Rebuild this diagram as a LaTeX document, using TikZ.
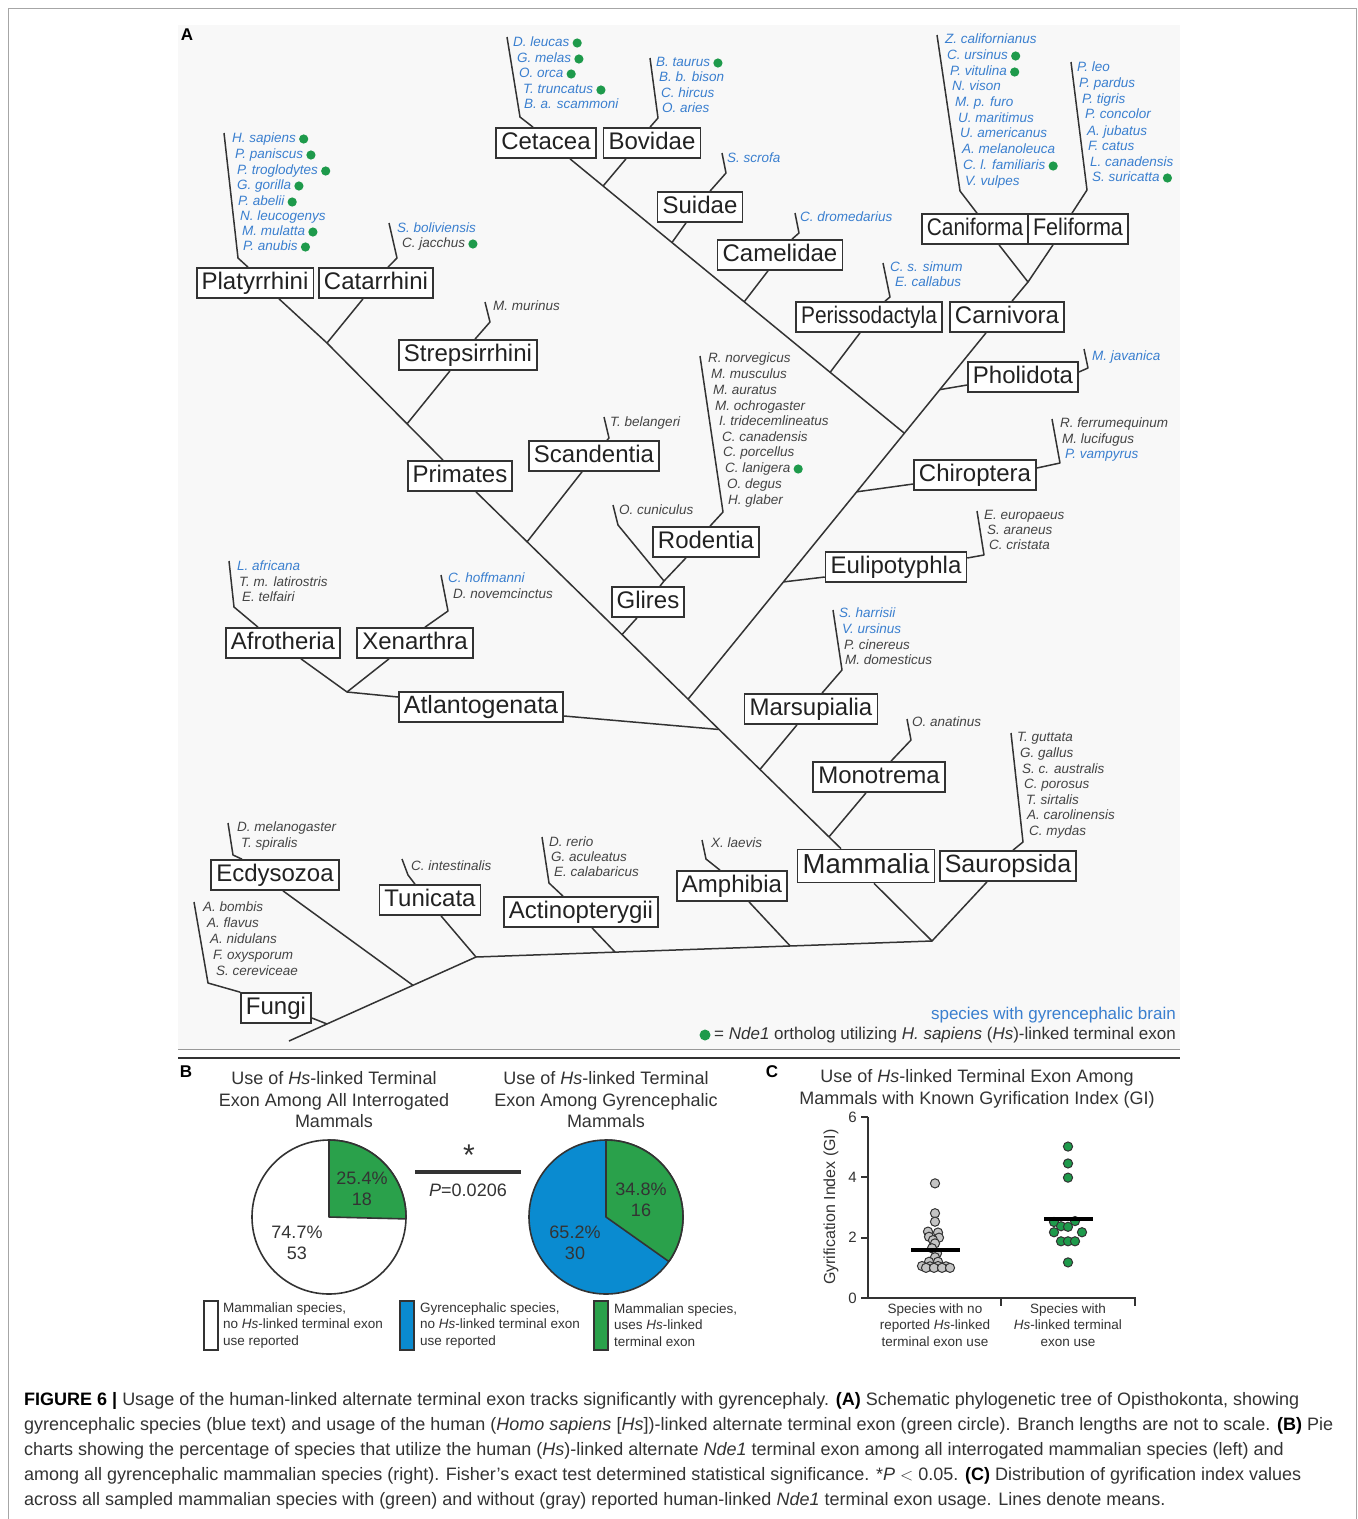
\documentclass[tikz,border=0pt]{standalone}
\usepackage{fontspec}
\usepackage{graphicx}
\setmainfont{Liberation Sans}
\usetikzlibrary{calc}
\definecolor{lc}{HTML}{333333}
\definecolor{boxtxt}{HTML}{222222}
\definecolor{cB}{HTML}{3A7FCF}
\definecolor{cK}{HTML}{444444}
\definecolor{dotg}{HTML}{1E9A4B}
\definecolor{pieg}{HTML}{2AA14B}
\definecolor{pieb}{HTML}{0A8BD0}
\definecolor{ptgray}{HTML}{C4C4C4}
\definecolor{bgg}{HTML}{F8F8F8}
\definecolor{captxt}{HTML}{333333}
\tikzset{
  box/.style={draw=lc, line width=1.7pt, fill=white, text=boxtxt, font=\fontsize{24}{24}\selectfont, inner xsep=5pt, inner ysep=4pt, text height=17pt, text depth=5pt},
  br/.style={draw=lc, line width=1.5pt, line join=round},
  spn/.style={anchor=west, inner sep=0pt, font=\fontsize{13.5}{14}\selectfont\itshape, text height=10pt, text depth=3pt},
  ttl/.style={align=center, text=lc, font=\fontsize{18}{21.5}\selectfont},
  lab/.style={font=\fontsize{17}{17}\selectfont\bfseries, text=black, inner sep=0pt},
  pieline/.style={draw=lc, line width=1.6pt, line join=round},
  pietxt/.style={align=center, text=lc, font=\fontsize{18}{21}\selectfont},
  legtxt/.style={anchor=west, align=left, text=lc, font=\fontsize{13.5}{16.5}\selectfont, inner sep=0pt},
  legbox/.style={draw=lc, line width=1.5pt},
  axisl/.style={draw=lc, line width=2pt},
  gpt/.style={draw=lc, line width=1pt, fill=ptgray},
  grpt/.style={draw=lc, line width=1pt, fill=dotg},
  meanline/.style={draw=black, line width=3.5pt},
  captext/.style={anchor=west, inner sep=0pt, text=captxt, font=\fontsize{18}{20}\selectfont},
}
\begin{document}
\begin{tikzpicture}[x=1pt,y=-1pt]
\useasboundingbox (0,0) rectangle (1358,1519);
\fill[white] (0,0) rectangle (1358,1519);
\fill[bgg] (178,25) rectangle (1180,1049);
\draw[gray!70, line width=1pt] (8,1519) -- (8,8) -- (1356,8) -- (1356,1519);
\draw[gray!80, line width=1pt] (178,1049) -- (1180,1049);
\draw[lc, line width=1.6pt] (178,1058) -- (1180,1058);

\node[lab] (labA) at (187,35) {A};

% ---------- boxes ----------
\node[box] (Cet) at (546,143) {Cetacea};
\node[box] (Bov) at (652,143) {Bovidae};
\node[box] (Sui) at (700,207) {Suidae};
\node[box] (Cam) at (780,255) {Camelidae};
\node[box] (Per) at (869,317) {\scalebox{0.87}[1]{Perissodactyla}};
\node[box] (Car) at (1007,317) {Carnivora};
\node[box] (Can) at (975,229) {\scalebox{0.87}[1]{Caniforma}};
\node[box] (Fel) at (1078,229) {\scalebox{0.9}[1]{Feliforma}};
\node[box] (Pho) at (1023,377) {Pholidota};
\node[box] (Chi) at (975,475) {Chiroptera};
\node[box] (Eul) at (896,567) {Eulipotyphla};
\node[box] (Pla) at (255,283) {Platyrrhini};
\node[box] (Cat) at (376,283) {Catarrhini};
\node[box] (Str) at (468,355) {Strepsirrhini};
\node[box] (Pri) at (460,476) {Primates};
\node[box] (Sca) at (594,456) {Scandentia};
\node[box] (Rod) at (706,542) {Rodentia};
\node[box] (Gli) at (648,602) {Glires};
\node[box] (Afr) at (283,643) {Afrotheria};
\node[box] (Xen) at (415,643) {Xenarthra};
\node[box, font=\fontsize{25}{25}\selectfont] (Atl) at (481,707) {Atlantogenata};
\node[box] (Mar) at (811,709) {Marsupialia};
\node[box] (Mon) at (879,777) {Monotrema};
\node[box, font=\fontsize{27.5}{27.5}\selectfont, text height=19.5pt, text depth=5.5pt] (Mam) at (866,866) {Mammalia};
\node[box, font=\fontsize{25}{25}\selectfont] (Sau) at (1008,866) {Sauropsida};
\node[box] (Amp) at (732,886) {Amphibia};
\node[box] (Act) at (581,912) {Actinopterygii};
\node[box] (Tun) at (430,900) {Tunicata};
\node[box] (Ecd) at (275,875) {Ecdysozoa};
\node[box] (Fun) at (276,1008) {Fungi};

% ---------- junction coordinates ----------
\coordinate (PriS) at (Pri.south -| 476,0);
\coordinate (MamN) at (Mam.north -| 841,0);
\coordinate (jSca) at ($(PriS)!0.14!(MamN)$);
\coordinate (jGli) at ($(PriS)!0.40!(MamN)$);
\coordinate (jBor) at ($(PriS)!0.581!(MamN)$);
\coordinate (jAtl) at ($(PriS)!0.666!(MamN)$);
\coordinate (jMar) at ($(PriS)!0.778!(MamN)$);
\coordinate (jMon) at ($(PriS)!0.967!(MamN)$);
\coordinate (CarS) at (Car.south -| 986,0);
\coordinate (jPho) at ($(CarS)!0.155!(jBor)$);
\coordinate (jLaur) at ($(CarS)!0.274!(jBor)$);
\coordinate (jChi) at ($(CarS)!0.434!(jBor)$);
\coordinate (jEul) at ($(CarS)!0.68!(jBor)$);
\coordinate (CetS) at (Cet.south -| 570,0);
\coordinate (jBov) at ($(CetS)!0.099!(jLaur)$);
\coordinate (jSui) at ($(CetS)!0.305!(jLaur)$);
\coordinate (jCam) at ($(CetS)!0.521!(jLaur)$);
\coordinate (jPer) at ($(CetS)!0.778!(jLaur)$);
\coordinate (jCF) at (1028,282);
\coordinate (jPC) at (327,343);
\coordinate (PriN) at (Pri.north -| 443,0);
\coordinate (jStr) at ($(jPC)!0.69!(PriN)$);
\coordinate (jRod) at (664,581);
\coordinate (jAX) at (347,692);
\coordinate (root) at (289,1041);
\coordinate (jBil) at (476,957);
\coordinate (jFun) at ($(root)!0.203!(jBil)$);
\coordinate (jEcd) at ($(root)!0.663!(jBil)$);
\coordinate (jAmn) at (932,941);
\coordinate (jAct) at ($(jBil)!0.305!(jAmn)$);
\coordinate (jAmp) at ($(jBil)!0.689!(jAmn)$);

% ---------- branches ----------
\draw[br] (CetS) -- (jLaur);
\draw[br] (CarS) -- (jBor);
\draw[br] (PriS) -- (MamN);
\draw[br] (Bov.south -| 626,0) -- (jBov);
\draw[br] (Sui.south -| 686,0) -- (jSui);
\draw[br] (Cam.south -| 768,0) -- (jCam);
\draw[br] (Per.south -| 860,0) -- (jPer);
\draw[br] (Can.south -| 999,0) -- (jCF) -- (Fel.south -| 1053,0);
\draw[br] (jCF) -- (Car.north -| 1012,0);
\draw[br] (Pho.west |- 0,385) -- (jPho);
\draw[br] (Chi.west |- 0,484) -- (jChi);
\draw[br] (Eul.west |- 0,577) -- (jEul);
\draw[br] (Pla.south -| 279,0) -- (jPC) -- (Cat.south -| 363,0);
\draw[br] (jPC) -- (PriN);
\draw[br] (Str.south -| 450,0) -- (jStr);
\draw[br] (Sca.south -| 582,0) -- (jSca);
\draw[br] (Gli.south -| 637,0) -- (jGli);
\draw[br] (Rod.south -| 686,0) -- (jRod) -- (Gli.north -| 660,0);
\draw[br] (613,505) -- (618,525) -- (jRod);
\draw[br] (Afr.south -| 301,0) -- (jAX) -- (Xen.south -| 389,0);
\draw[br] (jAX) -- (Atl.west |- 0,697);
\draw[br] (Atl.east |- 0,716) -- (jAtl);
\draw[br] (Mar.south -| 797,0) -- (jMar);
\draw[br] (Mon.south -| 866,0) -- (jMon);
\draw[br] (root) -- (jBil) -- (jAmn);
\draw[br] (Fun.east |- 0,1018) -- (jFun);
\draw[br] (Ecd.south -| 283,0) -- (jEcd);
\draw[br] (Tun.south -| 441,0) -- (jBil);
\draw[br] (Act.south -| 592,0) -- (jAct);
\draw[br] (Amp.south -| 749,0) -- (jAmp);
\draw[br] (Mam.south -| 874,0) -- (jAmn) -- (Sau.south -| 987,0);

% ---------- species brackets ----------
\draw[br] (224,133) -- (238,258) -- (Pla.north -| 248,0);
\draw[br] (389,223) -- (397,258) -- (Cat.north -| 388,0);
\draw[br] (507,37) -- (520,117) -- (Cet.north -| 533,0);
\draw[br] (650,58) -- (658,118) -- (Bov.north -| 650,0);
\draw[br] (722,153) -- (726,173) -- (Sui.north -| 710,0);
\draw[br] (795,213) -- (799,233) -- (Cam.north -| 792,0);
\draw[br] (883,263) -- (890,297) -- (Per.north -| 885,0);
\draw[br] (937,35) -- (960,191) -- (Can.north -| 977,0);
\draw[br] (1071,62) -- (1087,190) -- (Fel.north -| 1072,0);
\draw[br] (485,302) -- (490,322) -- (Str.north -| 475,0);
\draw[br] (604,417) -- (609,438) -- (Sca.north -| 607,0);
\draw[br] (700,356) -- (723,512) -- (Rod.north -| 710,0);
\draw[br] (1084,349) -- (1088,368) -- (Pho.east |- 0,372);
\draw[br] (1052,419) -- (1060,463) -- (Chi.east |- 0,468);
\draw[br] (977,511) -- (984,555) -- (Eul.east |- 0,558);
\draw[br] (229,561) -- (234,607) -- (Afr.north -| 258,0);
\draw[br] (441,575) -- (448,611) -- (Xen.north -| 425,0);
\draw[br] (833,610) -- (842,670) -- (Mar.north -| 822,0);
\draw[br] (907,719) -- (911,740) -- (Mon.north -| 891,0);
\draw[br] (1011,733) -- (1023,842) -- (Sau.north -| 1013,0);
\draw[br] (702,840) -- (706,859) -- (Amp.north -| 720,0);
\draw[br] (542,837) -- (549,883) -- (Act.north -| 563,0);
\draw[br] (402,859) -- (408,875) -- (Tun.north -| 415,0);
\draw[br] (228,823) -- (233,855) -- (Ecd.north -| 242,0);
\draw[br] (194,902) -- (208,983) -- (Fun.north west);

% ---------- species ----------
\foreach \xx/\yy/\tt/\cc/\dd [count=\i] in {
 232/139/H. sapiens/cB/1, 235/155/P. paniscus/cB/1, 237/171/P. troglodytes/cB/1,
 237/186/G. gorilla/cB/1, 238/202/P. abelii/cB/1, 240/217/N. leucogenys/cB/0,
 242/232/M. mulatta/cB/1, 243/247/P. anubis/cB/1,
 397/229/S. boliviensis/cB/0, 402/244/C. jacchus/cK/1,
 513/43/D. leucas/cB/1, 517/59/G. melas/cB/1, 519/74/O. orca/cB/1,
 523/90/T. truncatus/cB/1, 524/105/B. a. scammoni/cB/0,
 656/63/B. taurus/cB/1, 659/78/B. b. bison/cB/0, 661/94/C. hircus/cB/0, 662/109/O. aries/cB/0,
 727/159/S. scrofa/cB/0, 800/218/C. dromedarius/cB/0,
 890/268/C. s. simum/cB/0, 895/283/E. callabus/cB/0,
 945/40/Z. californianus/cB/0, 947/56/C. ursinus/cB/1, 950/72/P. vitulina/cB/1,
 952/87/N. vison/cB/0, 955/103/M. p. furo/cB/0, 958/119/U. maritimus/cB/0,
 960/134/U. americanus/cB/0, 962/150/A. melanoleuca/cB/0, 963/166/C. l. familiaris/cB/1,
 965/182/V. vulpes/cB/0,
 1077/68/P. leo/cB/0, 1079/84/P. pardus/cB/0, 1082/100/P. tigris/cB/0, 1085/115/P. concolor/cB/0,
 1087/132/A. jubatus/cB/0, 1088/147/F. catus/cB/0, 1090/163/L. canadensis/cB/0, 1092/178/S. suricatta/cB/1,
 493/307/M. murinus/cK/0, 610/423/T. belangeri/cK/0,
 708/359/R. norvegicus/cK/0, 711/375/M. musculus/cK/0, 713/391/M. auratus/cK/0,
 715/407/M. ochrogaster/cK/0, 719/422/I. tridecemlineatus/cK/0, 722/438/C. canadensis/cK/0,
 723/453/C. porcellus/cK/0, 725/469/C. lanigera/cK/1, 727/485/O. degus/cK/0, 728/501/H. glaber/cK/0,
 619/511/O. cuniculus/cK/0,
 1092/357/M. javanica/cB/0,
 1060/424/R. ferrumequinum/cK/0, 1062/440/M. lucifugus/cK/0, 1065/455/P. vampyrus/cB/0,
 984/516/E. europaeus/cK/0, 987/531/S. araneus/cK/0, 989/546/C. cristata/cK/0,
 237/567/L. africana/cB/0, 239/583/T. m. latirostris/cK/0, 242/598/E. telfairi/cK/0,
 448/579/C. hoffmanni/cB/0, 453/595/D. novemcinctus/cK/0,
 839/614/S. harrisii/cB/0, 842/630/V. ursinus/cB/0, 844/646/P. cinereus/cK/0, 845/661/M. domesticus/cK/0,
 912/723/O. anatinus/cK/0,
 1017/738/T. guttata/cK/0, 1020/754/G. gallus/cK/0, 1022/770/S. c. australis/cK/0,
 1024/785/C. porosus/cK/0, 1026/801/T. sirtalis/cK/0, 1027/816/A. carolinensis/cK/0, 1029/832/C. mydas/cK/0,
 711/844/X. laevis/cK/0,
 549/843/D. rerio/cK/0, 551/858/G. aculeatus/cK/0, 554/873/E. calabaricus/cK/0,
 411/867/C. intestinalis/cK/0,
 237/828/D. melanogaster/cK/0, 241/844/T. spiralis/cK/0,
 203/908/A. bombis/cK/0, 207/924/A. flavus/cK/0, 210/940/A. nidulans/cK/0,
 213/956/F. oxysporum/cK/0, 216/972/S. cereviceae/cK/0}{
  \node[spn, text=\cc] (sp\i) at (\xx,\yy) {\tt};
  \ifnum\dd=1 \fill[dotg] ([xshift=7.5pt]sp\i.east) circle[radius=4.6pt]; \fi
}

% ---------- legend A ----------
\node[anchor=east, inner sep=0pt, text=cB, font=\fontsize{17}{17}\selectfont] (lgA1) at (1176,1015) {species with gyrencephalic brain};
\node[anchor=east, inner sep=0pt, text=lc, font=\fontsize{17}{17}\selectfont] (lgA2) at (1176,1035) {= \textit{Nde1} ortholog utilizing \textit{H. sapiens} (\textit{Hs})-linked terminal exon};
\fill[dotg] ([xshift=-9pt]lgA2.west) circle[radius=5.5pt];

% ---------- panel B ----------
\node[lab] (labB) at (186,1072) {B};
\node[ttl] (tB1) at (334,1100) {Use of \textit{Hs}-linked Terminal\\Exon Among All Interrogated\\Mammals};
\node[ttl] (tB2) at (606,1100) {Use of \textit{Hs}-linked Terminal\\Exon Among Gyrencephalic\\Mammals};

\coordinate (p1) at (329,1217);
\draw[pieline, fill=white] (p1) circle[radius=77];
\draw[pieline, fill=pieg] (p1) -- ++(-90:77) arc[start angle=-90, end angle=1.4, radius=77] -- cycle;
\node[pietxt] (p1a) at (362,1189) {25.4\%\\18};
\node[pietxt] (p1b) at (297,1243) {74.7\%\\53};

\coordinate (p2) at (606,1217);
\draw[pieline, fill=pieb] (p2) circle[radius=77];
\draw[pieline, fill=pieg] (p2) -- ++(-90:77) arc[start angle=-90, end angle=35.3, radius=77] -- cycle;
\node[pietxt] (p2a) at (641,1200) {34.8\%\\16};
\node[pietxt] (p2b) at (575,1243) {65.2\%\\30};

\coordinate (sigL) at (415,1172);
\coordinate (sigR) at (521,1172);
\draw[lc, line width=3.5pt] (sigL) -- (sigR);
\node[text=lc, font=\fontsize{30}{30}\selectfont, inner sep=0pt] (ast) at (469,1155) {*};
\node[text=lc, font=\fontsize{18}{18}\selectfont] (pval) at (468,1190) {\textit{P}=0.0206};

\draw[legbox, fill=white] (204,1301) rectangle (218,1350);
\node[legtxt] (lgB1) at (223,1325) {Mammalian species,\\no \textit{Hs}-linked terminal exon\\use reported};
\draw[legbox, fill=pieb] (400,1301) rectangle (414,1350);
\node[legtxt] (lgB2) at (420,1325) {Gyrencephalic species,\\no \textit{Hs}-linked terminal exon\\use reported};
\draw[legbox, fill=pieg] (594,1301) rectangle (608,1350);
\node[legtxt] (lgB3) at (614,1325) {Mammalian species,\\uses \textit{Hs}-linked\\terminal exon};

% ---------- panel C ----------
\node[lab] (labC) at (772,1072) {C};
\node[ttl] (tC) at (977,1089) {Use of \textit{Hs}-linked Terminal Exon Among\\Mammals with Known Gyrification Index (GI)};
\draw[axisl] (868,1117) -- (868,1298) -- (1135,1298);
\draw[axisl] (862,1298) -- (868,1298);
\draw[axisl] (1001,1298) -- (1001,1306);
\draw[axisl] (1135,1297) -- (1135,1306);
\foreach \v in {0,2,4,6}{
  \draw[axisl] (861,{1298-30.17*\v}) -- (868,{1298-30.17*\v});
  \node[anchor=east, text=lc, font=\fontsize{15}{15}\selectfont, inner sep=0pt] (yt\v) at (857,{1298-30.17*\v}) {\v};
}
\node[rotate=90, text=lc, font=\fontsize{16}{16}\selectfont] (ylab) at (831,1207) {Gyrification Index (GI)};
\node[align=center, text=lc, font=\fontsize{13.5}{16.5}\selectfont] (xl1) at (935,1325) {Species with no\\reported \textit{Hs}-linked\\terminal exon use};
\node[align=center, text=lc, font=\fontsize{13.5}{16.5}\selectfont] (xl2) at (1068,1325) {Species with\\\textit{Hs}-linked terminal\\exon use};

\foreach \px/\pv in {935/3.80, 935/2.81, 935/2.53, 928/2.2, 938/2.17, 929/2.03, 939/2.0,
  933/1.92, 935/1.81, 932/1.65, 937/1.48, 935/1.35, 929/1.2, 938/1.2,
  922/1.06, 930/1.05, 938/1.06, 946/1.05, 926/1.0, 934/1.0, 942/1.0, 950/1.0}{
  \draw[gpt] (\px,{1298-30.17*\pv}) circle[radius=4.6pt];
}
\draw[meanline] (911,1250) -- (960,1250);

\foreach \px/\pv in {1068/5.02, 1068/4.46, 1068/3.99, 1054/2.52, 1075/2.55, 1061/2.38, 1068/2.36,
  1054/2.18, 1082/2.18, 1061/1.88, 1068/1.88, 1075/1.88, 1068/1.18}{
  \draw[grpt] (\px,{1298-30.17*\pv}) circle[radius=4.6pt];
}
\draw[meanline] (1044,1219) -- (1093,1219);

% ---------- caption ----------
\node[captext] (c1) at (24,1401) {\textcolor{black}{\textbf{FIGURE 6 |}} Usage of the human-linked alternate terminal exon tracks significantly with gyrencephaly. \textcolor{black}{\textbf{(A)}} Schematic phylogenetic tree of Opisthokonta, showing};
\node[captext] (c2) at (24,1426) {gyrencephalic species (blue text) and usage of the human (\textit{Homo sapiens} [\textit{Hs}])-linked alternate terminal exon (green circle). Branch lengths are not to scale. \textcolor{black}{\textbf{(B)}} Pie};
\node[captext] (c3) at (24,1451) {charts showing the percentage of species that utilize the human (\textit{Hs})-linked alternate \textit{Nde1} terminal exon among all interrogated mammalian species (left) and};
\node[captext] (c4) at (24,1476) {among all gyrencephalic mammalian species (right). Fisher's exact test determined statistical significance. *\textit{P} $<$ 0.05. \textcolor{black}{\textbf{(C)}} Distribution of gyrification index values};
\node[captext] (c5) at (24,1501) {across all sampled mammalian species with (green) and without (gray) reported human-linked \textit{Nde1} terminal exon usage. Lines denote means.};
\end{tikzpicture}
\end{document}
